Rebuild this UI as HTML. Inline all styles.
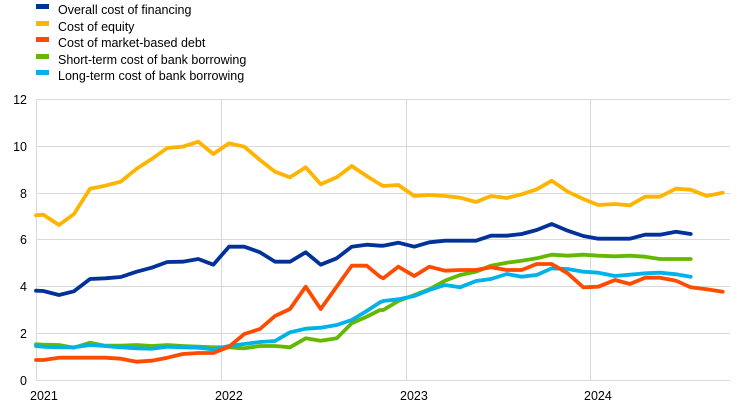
<!DOCTYPE html>
<html><head><meta charset="utf-8"><style>
body{margin:0;background:#fff;}
svg{display:block;font-family:"Liberation Sans",Arial,sans-serif;}
</style></head><body>
<svg id="s" width="744" height="405" xmlns="http://www.w3.org/2000/svg">
<g stroke="#d9d9d9" stroke-width="1">
<line x1="36" y1="99.5" x2="730" y2="99.5"/>
<line x1="36" y1="146.5" x2="730" y2="146.5"/>
<line x1="36" y1="193.5" x2="730" y2="193.5"/>
<line x1="36" y1="239.5" x2="730" y2="239.5"/>
<line x1="36" y1="286.5" x2="730" y2="286.5"/>
<line x1="36" y1="333.5" x2="730" y2="333.5"/>
<line x1="36" y1="380.5" x2="730" y2="380.5"/>
<line x1="36.5" y1="99" x2="36.5" y2="380"/>
<line x1="221.5" y1="99" x2="221.5" y2="380"/>
<line x1="406.5" y1="99" x2="406.5" y2="380"/>
<line x1="590.5" y1="99" x2="590.5" y2="380"/>
</g>
<g font-size="12.5" fill="#000" text-anchor="end">
<text x="27" y="104">12</text><text x="27" y="151">10</text><text x="27" y="198">8</text>
<text x="27" y="244">6</text><text x="27" y="291">4</text><text x="27" y="338">2</text><text x="27" y="385">0</text>
</g>
<g font-size="12.5" fill="#000">
<text x="30" y="400">2021</text><text x="215" y="400">2022</text><text x="400" y="400">2023</text><text x="584" y="400">2024</text>
</g>
<g font-size="12.5" fill="#000">
<rect x="36" y="4" width="13" height="5" fill="#003299"/><text x="58" y="14">Overall cost of financing</text>
<rect x="36" y="21" width="13" height="5" fill="#ffb400"/><text x="58" y="31">Cost of equity</text>
<rect x="36" y="37" width="13" height="5" fill="#ff4b00"/><text x="58" y="47">Cost of market-based debt</text>
<rect x="36" y="54" width="13" height="5" fill="#65b800"/><text x="58" y="64">Short-term cost of bank borrowing</text>
<rect x="36" y="70" width="13" height="5" fill="#00b1ea"/><text x="58" y="80">Long-term cost of bank borrowing</text>
</g>
<g id="lines" fill="none" stroke-width="3.8" stroke-linejoin="round" stroke-linecap="round"></g>
</svg>
<script>
var X=[108,130,177,222,270,315,362,410,455,502,548,595,640,687,733,780,825,870,917,962,1010,1055,1100,1140];
var X2=[0,40,85,133,178,225,270,318,363,410,455,500,545,593,640,685,735,780,825,870,918,962,1010,1058];
function pts(a,b){var r=[];for(var i=0;i<a.length;i++)r.push((X[i]/3).toFixed(1)+","+(90+a[i]/3).toFixed(1));
for(var j=1;j<b.length;j++)r.push((370+X2[j]/3).toFixed(1)+","+(90+b[j]/3).toFixed(1));return r.join(" ");}
var S=[
["#65b800",[763,764,765,773,758,767,767,765,768,765,768,770,772,772,775,768,768,772,745,752,745,700,680,660],[682,660,633,615,598,572,555,545,527,518,512,505,494,497,494,497,499,497,500,507,507,507]],
["#00b1ea",[768,770,772,772,765,768,772,775,776,770,772,773,778,768,762,756,753,727,716,713,705,690,663,637],[658,633,628,618,600,585,592,573,567,552,560,555,535,537,545,548,558,554,550,548,553,560]],
["#ff4b00",[810,810,803,803,803,803,806,815,812,803,792,789,789,770,732,717,678,657,590,657,590,527,527,560],[560,565,530,558,530,542,540,540,532,540,540,522,522,550,592,590,570,582,563,563,572,592,598,605]],
["#003299",[602,603,615,604,567,565,561,545,533,516,515,507,524,470,470,487,515,515,487,524,505,470,464,467],[467,467,458,470,457,452,452,452,437,437,432,420,402,422,438,446,446,446,434,434,425,432]],
["#ffb400",[376,374,405,372,296,287,275,236,207,174,170,155,192,160,170,210,245,262,232,283,262,228,258,283],[283,288,285,318,315,318,323,336,318,324,313,298,272,305,327,345,342,346,320,320,296,299,318,308]]
];
var g=document.getElementById("lines"),h="";
S.forEach(function(s){h+='<polyline stroke="'+s[0]+'" points="'+pts(s[1],s[2])+'"/>';});
g.innerHTML=h;
</script>
</body></html>
